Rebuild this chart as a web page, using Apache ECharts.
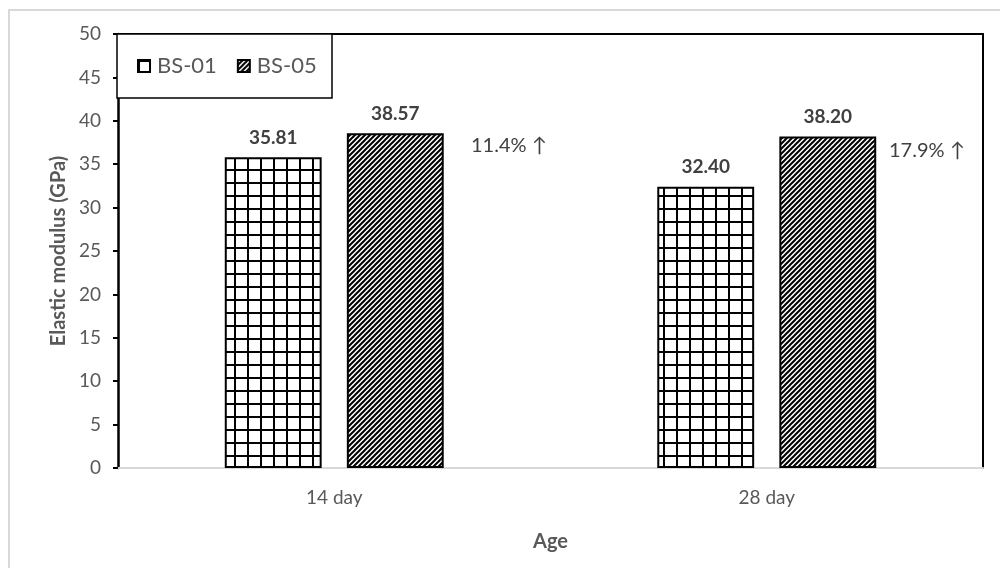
<!DOCTYPE html>
<html>
<head>
<meta charset="utf-8">
<script src="https://cdn.jsdelivr.net/npm/echarts@6/dist/echarts.min.js"></script>
<style>html,body{margin:0;padding:0;background:#fff}#c{width:1000px;height:568px}</style>
</head>
<body>
<div id="c"></div>
<script>
const categories = ['14 day', '28 day'];
const seriesNames = ['BS-01', 'BS-05'];
const bs01 = [35.81, 32.40];
const bs05 = [38.57, 38.20];
const increases = ['11.4% ↑', '17.9% ↑'];
const yTicks = { min: 0, max: 50, interval: 5 };

function gridPattern() {
  const c = document.createElement('canvas');
  c.width = 13; c.height = 13;
  const g = c.getContext('2d');
  g.fillStyle = '#fff'; g.fillRect(0, 0, 13, 13);
  g.fillStyle = '#000';
  g.fillRect(0, 0, 2, 13);
  g.fillRect(0, 0, 13, 2);
  return c;
}
function hatchPattern() {
  const s = 5;
  const c = document.createElement('canvas');
  c.width = s; c.height = s;
  const g = c.getContext('2d');
  g.fillStyle = '#fff'; g.fillRect(0, 0, s, s);
  g.strokeStyle = '#000'; g.lineWidth = 2;
  g.beginPath();
  g.moveTo(-1, s + 1); g.lineTo(s + 1, -1);
  g.moveTo(-1, 1); g.lineTo(1, -1);
  g.moveTo(s - 1, s + 1); g.lineTo(s + 1, s - 1);
  g.stroke();
  return c;
}

const FONT = 'Lato, "Noto Sans", sans-serif';
const chart = echarts.init(document.getElementById('c'), null, { renderer: 'canvas' });
const labelStyle = { show: true, position: 'top', distance: 10, fontWeight: 'bold', fontSize: 19, color: '#404040', fontFamily: FONT, formatter: p => p.value.toFixed(2) };

chart.setOption({
  animation: false,
  textStyle: { fontFamily: FONT },
  grid: { left: 118, right: 17, top: 34, bottom: 100 },
  legend: {
    left: 132, top: 50, itemWidth: 12, itemHeight: 12, itemGap: 20, z: 20, icon: 'rect',
    textStyle: { fontSize: 22, color: '#595959', fontFamily: FONT, padding: [0, 0, 0, 2] },
    data: seriesNames
  },
  xAxis: [
    {
      type: 'category', data: categories,
      axisLine: { lineStyle: { color: '#d9d9d9', width: 2 } },
      axisTick: { show: false },
      axisLabel: { fontSize: 19, color: '#595959', margin: 20 },
      name: 'Age', nameLocation: 'middle', nameGap: 64,
      nameTextStyle: { fontSize: 20, fontWeight: 'bold', color: '#595959' }
    },
    {
      type: 'category', data: categories, position: 'top',
      axisLine: { onZero: false, lineStyle: { color: '#000', width: 2 } },
      axisTick: { show: false }, axisLabel: { show: false }
    }
  ],
  yAxis: [
    {
      type: 'value', min: yTicks.min, max: yTicks.max, interval: yTicks.interval,
      axisLine: { show: true, onZero: false, lineStyle: { color: '#000', width: 2.5 } },
      axisTick: { show: true, length: 5, lineStyle: { color: '#000', width: 2 } },
      axisLabel: { fontSize: 19, color: '#595959', margin: 17 },
      splitLine: { show: false },
      name: 'Elastic modulus (GPa)', nameLocation: 'middle', nameGap: 48,
      nameTextStyle: { fontSize: 20, fontWeight: 'bold', color: '#595959' }
    },
    {
      type: 'value', min: yTicks.min, max: yTicks.max, interval: yTicks.interval, position: 'right',
      axisLine: { show: true, onZero: false, lineStyle: { color: '#000', width: 2 } },
      axisTick: { show: false }, axisLabel: { show: false }, splitLine: { show: false }
    }
  ],
  series: [
    {
      name: seriesNames[0], type: 'bar', data: bs01, barWidth: '22.4%', barGap: '26%',
      itemStyle: { color: { image: gridPattern(), repeat: 'repeat' }, borderColor: '#000', borderWidth: 2 },
      label: labelStyle
    },
    {
      name: seriesNames[1], type: 'bar', data: bs05, barWidth: '22.4%', barGap: '26%',
      itemStyle: { color: { image: hatchPattern(), repeat: 'repeat' }, borderColor: '#000', borderWidth: 2 },
      label: labelStyle
    }
  ],
  graphic: [
    { type: 'rect', shape: { x: 9, y: 10, width: 1000, height: 600 }, style: { fill: 'none', stroke: '#d9d9d9', lineWidth: 2 }, z: -10, silent: true },
    { type: 'rect', shape: { x: 117, y: 34, width: 215, height: 64 }, style: { fill: '#fff', stroke: '#000', lineWidth: 1.5 }, z: 5, silent: true },
    { type: 'text', left: 471, top: 136, style: { text: increases[0], fontSize: 20, fill: '#404040', fontFamily: FONT }, z: 6 },
    { type: 'text', left: 889, top: 141, style: { text: increases[1], fontSize: 20, fill: '#404040', fontFamily: FONT }, z: 6 }
  ]
});
</script>
</body>
</html>
